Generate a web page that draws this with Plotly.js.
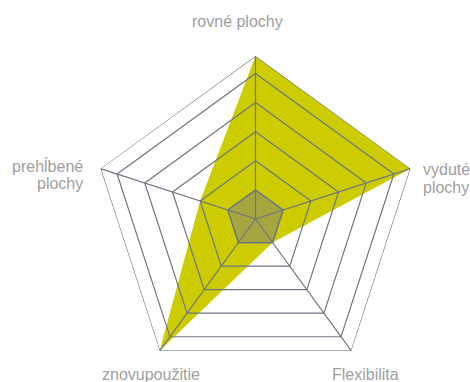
<!DOCTYPE html>
<html>
<head>
<meta charset="utf-8">
<script src="https://cdn.plot.ly/plotly-3.0.1.min.js"></script>
<style>html,body{margin:0;padding:0;background:#fff;}#chart{width:470px;height:382px;}</style>
</head>
<body>
<div id="chart"></div>
<script>
// Categories (clockwise from top)
const categories = ["rovné plochy", "vyduté plochy", "Flexibilita", "znovupoužitie", "prehĺbené plochy"];
// Category label lines (as shown next to each axis)
const labelLines = [["rovné plochy"], ["vyduté", "plochy"], ["Flexibilita"], ["znovupoužitie"], ["prehĺbené", "plochy"]];
// Series values
const seriesYellow = [5.6, 5.6, 1, 5.6, 2];
const seriesGray = [1, 1, 1, 1, 1];
// Radial grid levels and range
const gridLevels = [1, 2, 3, 4, 5];
const radialMax = 5.6;

const gridColor = "#6f7582";
const closeLoop = a => a.concat([a[0]]);
const thetaClosed = closeLoop(categories);

const traces = [];
traces.push({
  type: "scatterpolar", r: closeLoop(seriesYellow), theta: thetaClosed,
  fill: "toself", fillcolor: "#cccc00", mode: "lines",
  line: {color: "#cccc00", width: 0}, hoverinfo: "skip", showlegend: false
});
traces.push({
  type: "scatterpolar", r: closeLoop(seriesGray), theta: thetaClosed,
  fill: "toself", fillcolor: "rgba(128,128,128,0.5)", mode: "lines",
  line: {color: gridColor, width: 1.2}, hoverinfo: "skip", showlegend: false
});
// grid rings drawn on top of fills
gridLevels.concat([radialMax]).forEach(lv => {
  traces.push({
    type: "scatterpolar", r: thetaClosed.map(() => lv), theta: thetaClosed,
    mode: "lines", line: {color: gridColor, width: 1.2}, hoverinfo: "skip", showlegend: false
  });
});
// spokes
categories.forEach(c => {
  traces.push({
    type: "scatterpolar", r: [0, radialMax], theta: [c, c],
    mode: "lines", line: {color: gridColor, width: 1.2}, hoverinfo: "skip", showlegend: false
  });
});

// label placement (pixel positions of each line centre / anchor)
const W = 470, H = 382;
const labelPos = [
  [{x: 237, y: 21.5, xa: "center"}],
  [{x: 422, y: 169.5, xa: "left"}, {x: 422, y: 187.5, xa: "left"}],
  [{x: 365, y: 374, xa: "center"}],
  [{x: 150.5, y: 374, xa: "center"}],
  [{x: 84, y: 166, xa: "right"}, {x: 84, y: 184, xa: "right"}]
];
const annotations = [];
labelLines.forEach((lines, i) => {
  lines.forEach((txt, j) => {
    const p = labelPos[i][j];
    annotations.push({
      text: txt, xref: "paper", yref: "paper",
      x: p.x / W, y: (H - p.y) / H, xanchor: p.xa, yanchor: "middle",
      showarrow: false, borderpad: 0,
      font: {size: 16, color: "#a0a0a0", family: "Liberation Sans, Arial, sans-serif"}
    });
  });
});

const layout = {
  width: W, height: H,
  margin: {l: 0, r: 0, t: 0, b: 0},
  paper_bgcolor: "#ffffff",
  showlegend: false,
  font: {family: "Liberation Sans, Arial, sans-serif", color: "#a0a0a0", size: 16},
  annotations: annotations,
  polar: {
    domain: {x: [92.5/470, 418.5/470], y: [0, 326/382]},
    bgcolor: "rgba(0,0,0,0)",
    gridshape: "linear",
    radialaxis: {range: [0, radialMax], visible: false, showgrid: false},
    angularaxis: {
      rotation: 90, direction: "clockwise",
      showgrid: false, showline: false, showticklabels: false, ticks: ""
    }
  }
};

Plotly.newPlot("chart", traces, layout, {displayModeBar: false, staticPlot: true});
</script>
</body>
</html>
